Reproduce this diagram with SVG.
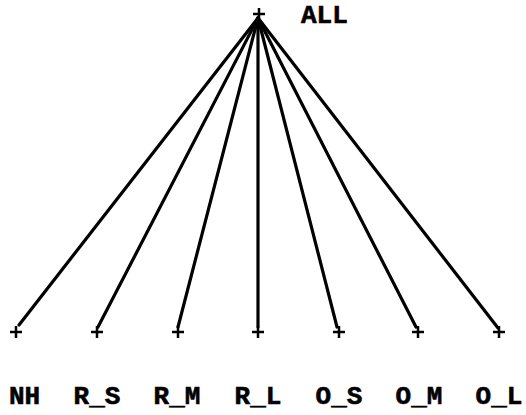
<svg xmlns="http://www.w3.org/2000/svg" width="526" height="415" viewBox="0 0 526 415">
<defs>
<style>
.edge{stroke:#000;stroke-width:3.2;stroke-linecap:round;fill:none}
.plus{stroke:#000;stroke-width:2.5;fill:none}
.lbl{font-family:"Liberation Mono","Courier New",monospace;font-weight:bold;font-size:26px;fill:#000;stroke:#000;stroke-width:0.6}
</style>
<path id="p" class="plus" d="M-6,0H6M0,-6V6"/>
</defs>
<rect width="526" height="415" fill="#fff"/>
<g id="connectors">
<line class="edge" x1="258" y1="18" x2="19" y2="325"/>
<line class="edge" x1="258" y1="18" x2="98" y2="327"/>
<line class="edge" x1="258" y1="18" x2="178" y2="327"/>
<line class="edge" x1="258" y1="18" x2="258" y2="327"/>
<line class="edge" x1="258" y1="18" x2="337" y2="327"/>
<line class="edge" x1="258" y1="18" x2="416" y2="327"/>
<line class="edge" x1="258" y1="18" x2="498" y2="328"/>
</g>
<g id="ALL"><use href="#p" x="259" y="14"/><text class="lbl" x="301" y="23" font-size="24">ALL</text></g>
<g id="NH"><use href="#p" x="16" y="332"/><text class="lbl" x="9" y="404">NH</text></g>
<g id="R_S"><use href="#p" x="97" y="332"/><text class="lbl" x="97" y="404" text-anchor="middle">R_S</text></g>
<g id="R_M"><use href="#p" x="178" y="332"/><text class="lbl" x="177" y="404" text-anchor="middle">R_M</text></g>
<g id="R_L"><use href="#p" x="258" y="332"/><text class="lbl" x="258" y="404" text-anchor="middle">R_L</text></g>
<g id="O_S"><use href="#p" x="339" y="332"/><text class="lbl" x="339" y="404" text-anchor="middle">O_S</text></g>
<g id="O_M"><use href="#p" x="418" y="332"/><text class="lbl" x="419" y="404" text-anchor="middle">O_M</text></g>
<g id="O_L"><use href="#p" x="499" y="332"/><text class="lbl" x="499" y="404" text-anchor="middle">O_L</text></g>
</svg>
